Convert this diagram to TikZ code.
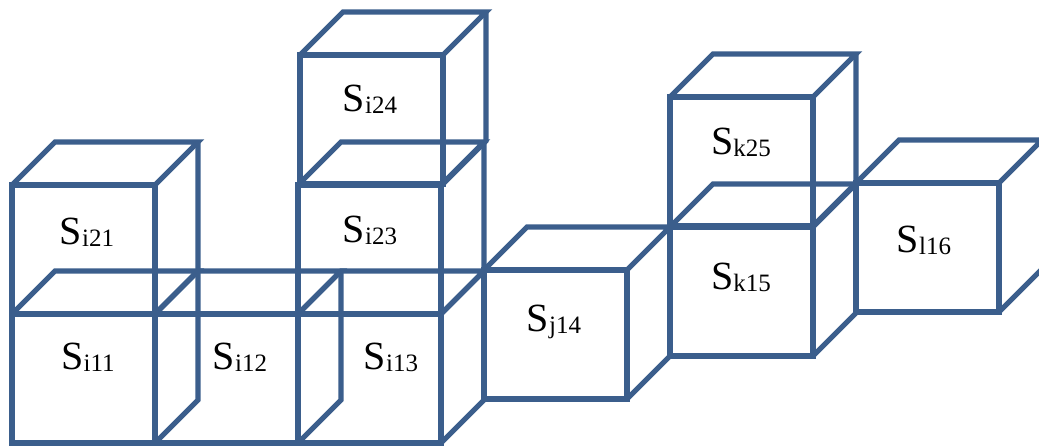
\documentclass[tikz,border=0pt]{standalone}
\usepackage{fontspec}
\setmainfont{Liberation Serif}
\definecolor{cubeblue}{HTML}{3B5E8C}
\newcommand\cubelabel[1]{S\raisebox{-1.5pt}{\fontsize{25}{25}\selectfont #1}}
\begin{document}
\begin{tikzpicture}[x=1pt,y=-1pt,
  edge/.style={draw=cubeblue,line width=5.2pt},
  cube/.pic={
    \draw[edge] (0,0) rectangle (143,129);
    \draw[edge] (0,0) -- (43,-43) -- (186,-43) -- (143,0);
    \draw[edge] (186,-43) -- (186,86) -- (143,129);
  },
  lbl/.style={anchor=base,inner sep=0pt,font=\fontsize{40}{40}\selectfont}]
\clip (0,0) rectangle (1039,446);
\useasboundingbox (0,0) rectangle (1039,446);
% cubes (front top-left corners)
\pic at (12,314) {cube};
\pic at (155,314) {cube};
\pic at (298,314) {cube};
\pic at (12,185) {cube};
\pic at (298,185) {cube};
\pic at (300,55) {cube};
\pic at (484,270) {cube};
\pic at (670,227) {cube};
\pic at (670,97) {cube};
\pic at (856,183) {cube};
% labels
\node[lbl] (si11) at (88,370) {\cubelabel{i11}};
\node[lbl] (si12) at (240,370) {\cubelabel{i12}};
\node[lbl] (si13) at (391,370) {\cubelabel{i13}};
\node[lbl] (si21) at (87,245) {\cubelabel{i21}};
\node[lbl] (si23) at (370,243) {\cubelabel{i23}};
\node[lbl] (si24) at (370,112) {\cubelabel{i24}};
\node[lbl] (sj14) at (554,332) {\cubelabel{j14}};
\node[lbl] (sk15) at (741,290) {\cubelabel{k15}};
\node[lbl] (sk25) at (741,155) {\cubelabel{k25}};
\node[lbl] (sl16) at (924,253) {\cubelabel{l16}};
\end{tikzpicture}
\end{document}
